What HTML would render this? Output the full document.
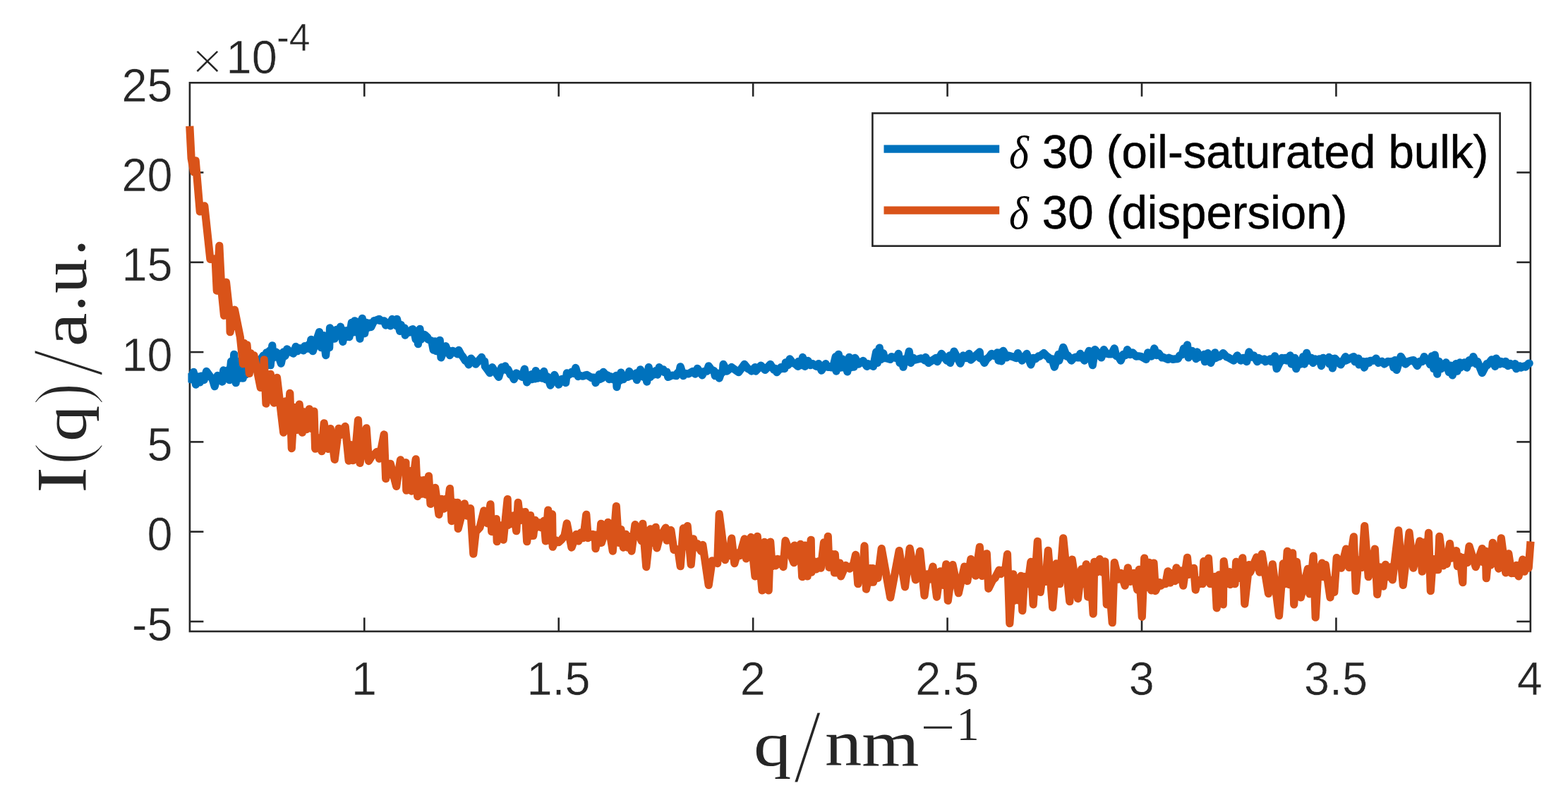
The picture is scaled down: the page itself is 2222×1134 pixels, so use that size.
<!DOCTYPE html>
<html lang="en">
<head>
<meta charset="utf-8">
<title>I(q) versus q</title>
<style>
html,body{margin:0;padding:0;background:#fff;}
body{width:2222px;height:1134px;overflow:hidden;}
svg{display:block;}
text{white-space:pre;}
.t{font-family:"Liberation Sans",Arial,Helvetica,sans-serif;fill:#262626;stroke:#fff;stroke-width:0.5px;}
.l{font-family:"Liberation Sans",Arial,Helvetica,sans-serif;fill:#000;stroke:#000;stroke-width:0.5px;}
.s{font-family:"Liberation Serif","Times New Roman",serif;fill:#262626;}
.d{font-family:"Liberation Serif","Times New Roman",serif;font-style:italic;fill:#000;}
.x{font-family:"Liberation Serif","Times New Roman",serif;fill:#262626;}
.ax line,.ax rect{stroke:#262626;stroke-width:2.6;fill:none;}
.c{fill:none;stroke-linejoin:round;stroke-linecap:butt;stroke-width:11.2;}
</style>
</head>
<body>
<svg width="2222" height="1134" viewBox="0 0 2222 1134">
<rect width="2222" height="1134" fill="#ffffff"/>
<g class="ax">
<rect x="268.9" y="117.3" width="1899.9" height="777.7"/>
<line x1="516.3" y1="895" x2="516.3" y2="875.5"/><line x1="516.3" y1="117.3" x2="516.3" y2="136.8"/><line x1="791.72" y1="895" x2="791.72" y2="875.5"/><line x1="791.72" y1="117.3" x2="791.72" y2="136.8"/><line x1="1067.15" y1="895" x2="1067.15" y2="875.5"/><line x1="1067.15" y1="117.3" x2="1067.15" y2="136.8"/><line x1="1342.58" y1="895" x2="1342.58" y2="875.5"/><line x1="1342.58" y1="117.3" x2="1342.58" y2="136.8"/><line x1="1618" y1="895" x2="1618" y2="875.5"/><line x1="1618" y1="117.3" x2="1618" y2="136.8"/><line x1="1893.42" y1="895" x2="1893.42" y2="875.5"/><line x1="1893.42" y1="117.3" x2="1893.42" y2="136.8"/><line x1="268.9" y1="244.5" x2="288.4" y2="244.5"/><line x1="2168.8" y1="244.5" x2="2149.3" y2="244.5"/><line x1="268.9" y1="371.8" x2="288.4" y2="371.8"/><line x1="2168.8" y1="371.8" x2="2149.3" y2="371.8"/><line x1="268.9" y1="499.1" x2="288.4" y2="499.1"/><line x1="2168.8" y1="499.1" x2="2149.3" y2="499.1"/><line x1="268.9" y1="626.4" x2="288.4" y2="626.4"/><line x1="2168.8" y1="626.4" x2="2149.3" y2="626.4"/><line x1="268.9" y1="753.7" x2="288.4" y2="753.7"/><line x1="2168.8" y1="753.7" x2="2149.3" y2="753.7"/><line x1="268.9" y1="881" x2="288.4" y2="881"/><line x1="2168.8" y1="881" x2="2149.3" y2="881"/>
</g>
<g>
<text class="t" xml:space="preserve" transform="translate(516,985.3) scale(1,1.02)" font-size="64.8" text-anchor="middle">1</text>
<text class="t" xml:space="preserve" transform="translate(791.42,985.3) scale(1,1.02)" font-size="64.8" text-anchor="middle">1.5</text>
<text class="t" xml:space="preserve" transform="translate(1066.85,985.3) scale(1,1.02)" font-size="64.8" text-anchor="middle">2</text>
<text class="t" xml:space="preserve" transform="translate(1342.28,985.3) scale(1,1.02)" font-size="64.8" text-anchor="middle">2.5</text>
<text class="t" xml:space="preserve" transform="translate(1617.7,985.3) scale(1,1.02)" font-size="64.8" text-anchor="middle">3</text>
<text class="t" xml:space="preserve" transform="translate(1893.12,985.3) scale(1,1.02)" font-size="64.8" text-anchor="middle">3.5</text>
<text class="t" xml:space="preserve" transform="translate(2167.85,985.3) scale(1,1.02)" font-size="64.8" text-anchor="middle">4</text>
</g>
<g>
<text class="t" xml:space="preserve" transform="translate(244.6,143.8) scale(1,1.02)" font-size="64.8" text-anchor="end">25</text>
<text class="t" xml:space="preserve" transform="translate(244.6,271.1) scale(1,1.02)" font-size="64.8" text-anchor="end">20</text>
<text class="t" xml:space="preserve" transform="translate(244.6,398.4) scale(1,1.02)" font-size="64.8" text-anchor="end">15</text>
<text class="t" xml:space="preserve" transform="translate(244.6,525.7) scale(1,1.02)" font-size="64.8" text-anchor="end">10</text>
<text class="t" xml:space="preserve" transform="translate(244.6,653) scale(1,1.02)" font-size="64.8" text-anchor="end">5</text>
<text class="t" xml:space="preserve" transform="translate(244.6,780.3) scale(1,1.02)" font-size="64.8" text-anchor="end">0</text>
<text class="t" xml:space="preserve" transform="translate(244.6,907.6) scale(1,1.02)" font-size="64.8" text-anchor="end">-5</text>
</g>
<g><text class="x" transform="translate(271.20,113.31) scale(1.0189,1.0000)" font-size="78.52" stroke="#fff" stroke-width="1.39">×</text><text class="t" xml:space="preserve" transform="translate(320.6,103.6) scale(1,1.02)" font-size="64.8" text-anchor="start">10</text><text class="t" xml:space="preserve" transform="translate(392,71.6) scale(1,1.02)" font-size="53.6" text-anchor="start">-4</text></g>
<clipPath id="bc"><rect x="266.4" y="100" width="1940" height="800"/></clipPath>
<polyline class="c" stroke="#0072bd" style="stroke-linecap:round" clip-path="url(#bc)" points="254.7,536.5 266.7,535.0 267.4,534.5 270.0,537.7 274.2,527.3 277.5,545.2 280.4,533.9 283.3,541.9 285.0,533.1 289.2,538.6 292.5,526.4 298.3,534.4 300.8,536.4 304.2,547.7 308.3,532.3 315.0,541.1 316.7,524.8 320.0,531.1 324.2,523.9 324.9,538.6 327.5,512.3 329.6,537.7 331.7,502.3 334.2,542.7 335.8,512.3 340.0,536.1 342.1,525.6 344.2,536.1 346.2,525.6 348.3,531.1 360.0,518.9 360.7,522.7 373.3,503.9 375.4,517.7 377.5,499.8 379.6,517.7 381.7,497.3 383.3,517.7 385.8,489.8 386.7,507.7 390.8,498.9 393.3,500.6 398.3,515.2 401.7,498.9 404.2,504.4 406.7,494.8 410.0,497.7 411.7,498.8 415.8,501.1 419.2,491.4 421.7,497.7 425.0,493.9 430.0,496.9 431.7,490.6 434.2,494.4 436.7,488.9 438.8,494.4 440.8,481.4 443.3,497.7 452.5,470.6 455.0,492.7 458.3,475.6 461.7,503.6 464.2,475.6 466.7,492.7 467.5,464.8 474.2,480.2 476.7,467.3 479.2,476.1 482.5,463.1 485.8,484.4 488.3,468.9 490.8,477.7 493.3,468.1 495.0,477.7 498.3,457.3 500.0,471.1 502.5,454.8 505.0,471.1 507.5,456.4 510.0,480.2 513.3,451.4 516.7,472.7 519.2,457.3 521.7,464.4 523.8,458.1 525.8,463.6 530.0,454.8 531.7,454.4 537.5,452.3 538.3,454.4 544.2,454.8 546.7,461.1 550.0,457.3 553.3,461.9 555.8,452.3 561.7,461.9 562.5,452.3 566.7,469.4 568.3,460.6 570.8,469.4 573.3,464.8 574.2,475.2 577.1,469.8 580.0,471.1 583.3,467.4 585.0,466.6 587.1,470.6 589.2,481.1 590.8,470.6 592.5,487.7 595.0,466.4 596.7,481.1 600.8,474.9 601.7,474.4 605.8,478.1 606.7,481.1 611.7,483.1 614.2,496.1 616.2,483.9 618.3,497.7 623.3,482.3 625.0,506.9 631.7,490.6 634.2,497.7 636.7,497.3 637.4,503.6 641.7,497.3 648.3,501.9 650.0,496.4 653.3,502.7 655.8,505.6 659.2,511.1 661.7,512.3 664.2,516.9 667.5,508.1 674.2,516.1 682.5,506.4 684.6,511.9 686.7,512.3 687.4,519.4 690.8,523.9 694.2,528.6 697.5,520.6 706.7,534.4 710.8,520.6 712.5,524.4 715.8,518.9 718.3,524.4 720.0,523.9 723.3,531.1 725.8,532.3 728.3,537.7 731.7,528.9 735.0,531.1 736.7,532.2 740.0,534.4 743.3,523.1 746.7,541.9 753.3,530.6 754.0,537.7 756.2,530.6 758.3,536.9 759.2,525.6 762.1,536.1 765.0,529.8 767.9,536.1 770.8,526.4 773.3,537.7 775.8,533.9 780.0,546.1 785.8,531.4 791.7,545.2 796.7,537.3 801.7,542.7 803.3,528.9 806.7,531.1 810.0,527.3 812.9,529.4 815.8,521.4 819.2,533.6 821.7,532.3 825.0,533.1 826.7,533.1 830.0,531.7 831.7,531.4 836.7,534.5 838.3,535.6 840.8,535.0 843.3,535.6 844.0,542.7 849.2,530.6 849.9,537.7 851.6,530.6 853.3,536.1 855.0,527.3 858.3,531.1 861.7,532.3 863.3,537.7 865.8,533.9 868.3,537.7 873.3,532.3 874.0,548.6 876.2,532.3 878.3,539.4 880.0,528.1 883.3,537.7 886.7,532.3 890.0,534.4 891.7,526.4 895.0,532.7 897.5,532.3 899.6,532.7 901.7,528.9 902.4,538.6 907.5,523.9 911.7,534.4 914.2,528.9 916.7,541.1 919.2,520.6 921.7,534.4 924.2,528.9 926.7,531.1 929.2,525.6 931.7,531.1 934.2,520.6 937.1,524.4 940.0,523.9 941.7,527.7 945.0,527.3 946.7,534.4 949.2,533.5 952.5,532.0 955.0,532.0 958.3,532.7 960.0,528.9 962.1,529.4 964.2,519.8 968.3,532.7 969.2,528.9 972.1,529.6 975.0,530.0 975.7,529.8 981.7,526.4 985.0,530.2 988.3,522.3 995.0,531.9 998.3,526.4 1001.7,526.1 1004.2,518.9 1008.3,524.4 1011.7,525.6 1013.3,532.7 1016.2,528.9 1019.2,536.1 1021.7,528.9 1024.2,527.7 1025.0,516.4 1030.0,526.1 1036.7,520.6 1046.7,527.7 1055.0,516.4 1060.0,522.7 1062.5,523.9 1065.0,526.1 1070.0,520.6 1070.8,526.1 1078.3,518.1 1084.2,524.4 1091.7,516.4 1096.7,524.4 1098.8,522.3 1100.8,527.7 1106.7,520.6 1107.4,522.7 1109.5,520.6 1111.7,522.7 1113.3,513.9 1116.7,517.7 1119.2,508.9 1123.3,514.4 1126.7,515.6 1130.8,519.4 1131.7,512.3 1134.6,517.7 1137.5,506.4 1140.8,519.4 1145.0,511.4 1148.3,517.7 1151.7,515.6 1156.7,519.4 1160.0,515.6 1164.2,525.2 1170.0,515.6 1170.7,519.4 1173.7,520.4 1176.7,519.3 1178.3,520.8 1181.2,517.7 1184.2,505.6 1185.0,526.1 1188.3,502.3 1191.7,521.1 1193.3,508.9 1195.8,521.1 1198.3,513.9 1200.8,526.9 1203.3,506.4 1205.0,521.1 1207.5,510.6 1210.0,520.2 1211.7,507.3 1216.7,516.1 1223.3,511.4 1228.3,519.4 1230.0,515.6 1233.3,517.7 1236.7,515.6 1237.5,519.4 1241.7,498.9 1243.3,514.4 1246.3,493.1 1248.3,509.4 1251.7,500.6 1253.3,507.7 1255.0,507.3 1261.7,509.4 1263.3,505.6 1270.0,507.7 1273.3,501.4 1275.0,514.4 1277.5,508.9 1280.0,520.2 1282.5,508.9 1285.0,512.7 1288.3,498.1 1290.8,514.4 1294.2,507.3 1296.7,510.2 1301.7,508.8 1305.0,507.9 1307.9,508.9 1310.8,511.1 1311.7,506.4 1315.8,514.4 1326.7,507.3 1328.3,512.7 1334.2,501.4 1341.7,511.1 1345.8,503.9 1346.5,514.4 1352.0,498.1 1360.8,515.2 1365.0,503.9 1369.2,507.7 1373.3,501.4 1375.8,510.2 1388.3,498.9 1389.0,507.7 1392.0,508.9 1395.0,514.4 1398.3,508.9 1401.7,506.1 1405.0,501.4 1408.3,504.4 1413.3,499.8 1415.0,511.1 1417.1,499.8 1419.2,511.9 1421.7,497.3 1426.7,506.9 1428.3,503.9 1433.3,505.2 1435.0,505.6 1440.0,507.7 1442.5,500.6 1448.3,511.1 1455.0,501.4 1460.8,516.9 1464.2,507.3 1467.5,508.6 1471.7,504.8 1473.3,505.2 1479.2,500.6 1482.9,504.4 1486.7,507.3 1487.4,509.4 1490.8,508.9 1494.2,520.2 1500.0,502.3 1500.8,511.1 1506.7,492.3 1511.7,505.2 1513.3,503.9 1518.3,511.1 1521.7,507.3 1525.0,506.1 1527.5,506.9 1530.0,506.9 1530.8,501.4 1536.7,511.1 1543.3,497.3 1548.3,517.7 1551.7,495.6 1560.8,506.9 1564.2,495.6 1567.9,501.1 1571.7,501.9 1575.0,501.9 1579.2,493.9 1581.7,504.4 1585.0,505.6 1588.3,511.1 1591.7,502.3 1595.0,503.6 1597.5,495.6 1601.7,502.7 1605.0,499.8 1610.0,505.2 1613.3,504.8 1616.7,505.2 1620.0,506.9 1624.2,509.4 1626.7,499.8 1631.7,505.2 1635.8,493.9 1638.8,503.6 1641.7,500.6 1646.7,506.9 1648.3,506.4 1655.0,509.4 1656.7,507.3 1661.7,509.4 1665.0,508.9 1669.2,508.6 1671.7,503.9 1675.0,502.7 1677.5,493.9 1680.0,501.1 1682.5,488.9 1684.2,506.9 1689.2,497.3 1695.0,508.6 1696.7,498.9 1699.2,506.1 1701.7,503.9 1704.2,506.1 1706.7,502.3 1707.4,512.7 1711.7,500.6 1715.8,514.4 1721.7,499.8 1722.4,507.7 1727.5,504.8 1728.3,505.2 1733.3,500.6 1738.3,506.1 1740.0,506.4 1748.3,511.1 1753.3,503.9 1758.3,511.1 1761.7,507.3 1766.7,512.7 1770.0,498.9 1773.3,506.1 1776.7,503.9 1781.7,512.7 1783.3,507.3 1788.3,510.2 1791.7,508.9 1793.3,512.7 1800.0,508.9 1801.7,512.7 1806.7,504.8 1809.2,522.7 1816.7,507.3 1817.4,511.1 1821.7,507.3 1823.3,511.1 1828.3,503.9 1830.0,516.1 1835.0,507.3 1836.7,522.7 1840.0,513.9 1843.3,516.1 1846.7,505.6 1848.3,516.1 1851.7,500.3 1855.0,511.1 1858.3,507.3 1860.8,514.4 1863.8,508.9 1866.7,511.1 1869.6,508.9 1872.5,518.6 1875.0,507.3 1879.2,511.1 1883.3,506.4 1884.0,516.1 1886.2,508.1 1888.3,521.9 1891.7,508.1 1900.0,516.9 1906.7,505.6 1907.4,511.1 1918.3,505.6 1920.0,512.7 1925.0,508.1 1925.7,516.9 1927.8,512.3 1930.0,516.1 1931.7,512.3 1933.3,521.1 1936.7,512.3 1940.0,514.4 1941.7,511.4 1946.7,511.1 1950.0,508.1 1953.3,514.4 1958.3,512.3 1961.7,516.1 1966.7,512.3 1970.0,512.7 1972.5,512.3 1975.0,521.1 1976.7,510.6 1979.2,524.4 1985.0,505.3 1991.7,516.1 1995.8,512.3 2000.0,511.1 2003.3,510.6 2008.3,518.6 2011.7,512.3 2015.0,512.7 2018.3,505.6 2021.7,511.1 2024.2,510.6 2026.7,516.9 2029.2,504.8 2031.7,522.7 2033.3,503.1 2036.7,530.2 2039.2,512.3 2042.5,522.7 2049.2,513.9 2053.3,527.7 2055.8,518.1 2058.3,531.9 2063.3,515.6 2065.0,526.1 2068.7,513.9 2069.4,521.1 2075.3,513.9 2078.7,521.1 2082.0,510.6 2084.9,514.4 2087.8,505.6 2092.0,516.1 2093.7,512.3 2100.3,528.6 2107.0,515.6 2107.7,517.7 2113.7,509.8 2118.7,519.4 2120.3,508.1 2125.3,516.1 2127.0,512.3 2132.0,516.1 2133.7,512.3 2137.0,518.6 2140.3,515.6 2143.7,517.7 2147.0,515.6 2148.7,522.7 2153.7,518.9 2155.3,521.1 2160.3,518.9 2162.0,520.2 2166.5,515.0 2167.2,515.0"/>
<polyline class="c" stroke="#d95319" points="268.8,178.8 271.1,224.2 274.6,243.8 277.2,227.8 283.3,300.0 289.8,291.9 297.9,367.5 305.1,366.7 307.3,412.2 310.8,348.3 314.0,412.5 317.5,447.3 320.5,400.0 325.7,447.5 326.1,470.7 332.5,439.2 340.4,478.0 344.4,515.8 345.8,486.4 347.5,513.6 350.0,488.9 353.3,529.4 355.0,500.6 357.5,519.4 360.0,503.9 369.2,549.4 371.7,549.4 374.2,509.8 377.0,572.2 383.3,530.3 388.3,571.1 392.5,535.3 401.7,613.1 404.6,568.9 407.5,609.4 410.8,557.3 413.3,635.6 416.7,577.3 420.8,609.4 424.2,573.1 428.3,613.1 431.2,583.9 434.2,608.6 438.3,579.8 441.7,607.7 445.0,583.1 446.7,636.1 449.0,620.6 451.2,634.4 453.5,620.6 455.8,639.7 459.2,599.8 465.0,636.4 468.3,607.6 474.2,651.4 480.0,607.3 480.8,617.7 489.2,604.4 494.2,653.1 497.1,630.6 500.0,652.7 501.7,630.6 503.3,644.4 507.5,595.6 510.0,656.4 519.2,606.8 522.5,653.6 527.5,645.6 530.0,644.4 534.2,640.3 537.5,650.2 544.2,615.9 546.7,678.6 550.3,657.3 551.8,672.7 553.3,657.3 561.7,689.4 567.5,651.9 571.2,664.4 575.0,655.6 575.8,695.2 579.6,667.3 583.3,696.1 589.2,650.9 591.7,703.6 594.6,680.6 597.5,700.2 600.4,680.6 603.3,701.1 607.5,674.8 610.0,714.4 616.7,691.4 622.0,729.4 625.6,707.3 629.2,721.1 631.7,707.3 634.2,717.7 637.5,692.6 640.0,738.6 644.2,712.3 646.2,738.6 648.3,712.3 649.2,749.4 658.3,713.9 661.7,731.1 666.7,720.6 670.8,785.2 674.2,753.9 680.0,747.7 685.8,723.9 690.8,741.9 695.0,714.8 696.7,753.6 703.3,735.6 704.2,767.7 709.2,744.8 713.3,765.2 719.2,707.6 719.9,744.4 722.8,730.6 725.8,742.7 728.7,730.6 731.7,752.7 734.2,712.3 737.1,737.7 740.0,725.6 742.1,737.7 744.2,725.6 746.7,767.7 751.7,730.6 753.3,759.4 755.0,737.3 755.7,759.4 758.3,737.3 760.0,747.7 763.3,740.6 766.7,747.7 770.8,738.1 773.3,766.9 776.7,723.1 779.6,766.9 782.5,728.9 783.2,775.2 787.4,765.6 791.7,768.6 795.8,764.8 800.0,759.4 803.3,741.9 810.0,776.1 816.7,757.3 820.0,766.9 823.3,754.8 826.7,762.7 830.8,729.3 833.3,762.7 840.0,757.3 841.7,762.7 843.3,758.1 844.0,777.7 847.5,760.6 849.6,769.4 851.7,742.3 852.4,769.4 861.7,740.3 868.3,781.1 873.3,717.6 876.7,769.4 880.0,750.6 883.3,776.1 886.7,757.3 889.2,776.1 891.7,760.6 895.0,781.1 900.0,743.6 909.2,766.9 910.8,742.3 915.8,803.6 921.7,749.8 925.4,769.4 929.2,747.3 930.8,776.9 935.8,757.3 937.5,757.7 943.3,748.1 945.0,766.1 950.8,751.4 955.0,779.4 960.8,778.9 964.2,802.7 968.3,748.9 971.2,774.4 974.2,745.6 979.2,800.2 982.5,763.9 985.4,776.1 988.3,770.6 993.3,781.1 995.8,772.3 1004.2,829.4 1009.2,794.8 1016.7,798.6 1019.2,728.6 1027.5,793.6 1030.4,778.9 1033.3,787.7 1036.7,763.1 1040.8,798.6 1045.0,783.9 1048.3,787.7 1055.0,763.9 1057.5,791.9 1064.2,761.4 1070.0,816.9 1073.3,760.3 1080.0,836.9 1083.3,768.4 1089.2,836.9 1091.7,768.1 1094.2,802.7 1096.7,792.3 1099.2,801.9 1101.9,792.3 1104.6,799.4 1107.3,792.3 1110.0,803.6 1113.0,766.4 1125.0,797.7 1125.8,773.1 1130.8,794.4 1134.2,771.4 1136.7,817.7 1140.8,773.1 1144.2,816.9 1149.2,765.3 1150.0,811.1 1153.3,795.6 1156.7,806.9 1160.0,795.6 1163.3,805.2 1167.5,768.9 1170.4,791.1 1173.3,760.3 1175.0,804.4 1180.0,785.6 1182.5,811.9 1183.3,785.6 1185.0,811.9 1186.7,798.9 1188.3,811.9 1190.0,798.1 1191.7,816.9 1198.3,801.4 1204.2,806.1 1206.7,802.3 1209.2,801.1 1212.5,786.4 1215.8,827.7 1219.2,802.3 1222.1,821.1 1225.0,773.9 1227.5,835.2 1233.3,805.6 1235.0,825.2 1236.7,805.6 1237.5,825.2 1243.3,805.6 1244.0,819.4 1249.2,777.6 1261.7,846.9 1274.2,780.6 1282.5,831.9 1289.2,777.3 1297.5,821.9 1303.7,781.4 1310.0,844.1 1313.8,813.9 1317.5,821.1 1322.0,803.1 1327.5,846.1 1332.5,809.8 1336.7,829.4 1340.8,799.8 1343.3,851.4 1350.0,800.6 1358.3,840.7 1366.7,803.1 1370.8,823.6 1375.8,792.6 1382.5,816.1 1388.3,775.3 1391.7,816.4 1398.3,784.8 1400.8,834.4 1406.7,822.3 1410.0,819.4 1415.8,808.1 1418.3,813.6 1421.2,808.1 1424.2,811.1 1427.5,785.6 1430.8,883.6 1435.8,813.9 1438.5,851.1 1441.2,822.3 1444.0,851.1 1446.7,816.4 1448.8,865.7 1451.7,817.3 1456.7,827.7 1460.8,796.4 1464.2,856.9 1470.3,767.3 1474.2,839.4 1477.5,815.6 1481.7,824.4 1485.3,780.3 1491.7,861.1 1496.7,798.9 1501.7,827.7 1506.7,762.8 1515.8,852.7 1519.2,793.1 1527.5,848.6 1532.5,806.9 1535.8,827.7 1539.2,799.8 1541.7,846.1 1545.0,803.9 1549.2,870.2 1550.8,796.4 1554.6,811.1 1558.3,792.6 1562.1,811.1 1565.8,795.9 1568.3,856.9 1572.5,835.6 1576.2,882.7 1579.2,797.3 1585.0,821.1 1588.3,812.3 1594.2,830.2 1598.3,804.8 1601.7,824.4 1606.7,812.3 1611.7,836.1 1614.2,807.3 1618.3,874.4 1621.7,791.1 1625.0,832.7 1628.3,797.3 1631.7,836.9 1635.0,798.1 1637.5,837.7 1643.3,825.6 1645.0,830.2 1648.3,827.3 1651.7,827.7 1655.0,809.8 1658.3,826.1 1661.7,812.3 1665.0,823.6 1667.0,804.8 1670.0,821.1 1673.3,808.9 1676.7,830.2 1682.5,790.3 1684.8,814.4 1687.1,805.3 1689.4,814.4 1691.7,805.3 1694.2,836.1 1697.1,822.3 1700.0,827.7 1702.1,822.3 1704.2,827.7 1705.8,795.6 1709.2,821.1 1712.5,791.4 1715.0,827.7 1717.3,817.3 1719.6,827.7 1721.9,817.3 1724.2,861.9 1727.5,814.8 1733.3,856.9 1734.2,795.6 1738.3,827.7 1742.5,810.6 1743.3,828.6 1746.7,813.9 1750.0,827.7 1751.7,796.4 1756.7,819.4 1760.8,790.9 1763.8,856.1 1770.0,800.6 1771.7,811.1 1780.8,789.8 1785.0,811.1 1788.3,785.3 1797.5,841.4 1803.3,799.8 1812.5,872.7 1818.3,798.9 1821.2,827.7 1824.2,781.4 1826.7,828.6 1831.7,783.9 1833.7,856.9 1837.5,796.4 1843.3,846.9 1853.3,806.4 1855.8,841.9 1861.2,788.1 1864.2,875.2 1868.3,803.9 1870.8,817.7 1873.3,798.1 1875.8,817.7 1878.3,800.6 1885.0,846.9 1887.9,822.3 1890.8,839.4 1894.2,790.6 1900.8,805.2 1907.5,778.1 1911.7,804.4 1918.3,760.9 1921.3,837.7 1925.0,793.9 1930.0,804.4 1933.7,745.6 1939.2,817.7 1948.3,778.1 1951.7,842.7 1955.8,803.9 1960.0,831.1 1963.3,800.3 1966.7,817.7 1970.0,803.9 1973.3,821.9 1981.7,751.9 1988.3,829.4 1997.0,754.8 2002.8,805.2 2012.0,766.9 2015.3,810.2 2018.2,768.9 2021.2,804.4 2024.5,755.3 2027.3,837.7 2030.5,792.3 2033.7,807.7 2035.8,792.3 2037.8,807.7 2039.8,760.3 2045.3,801.9 2047.8,793.9 2050.3,799.4 2054.5,770.6 2056.8,791.1 2059.1,780.6 2061.4,791.1 2063.7,780.6 2065.3,802.7 2068.7,788.9 2072.8,825.7 2073.7,790.6 2076.2,793.9 2079.1,797.7 2082.0,774.3 2091.2,803.6 2100.3,777.6 2102.8,797.7 2105.3,781.4 2106.2,819.7 2109.5,785.6 2112.4,801.1 2115.3,769.3 2123.7,806.1 2127.3,762.8 2133.7,811.9 2137.8,784.8 2142.0,812.7 2145.3,803.9 2147.0,812.7 2148.7,801.4 2152.0,816.9 2157.8,793.1 2160.3,810.2 2162.0,797.3 2166.2,805.2 2169.0,767.5"/>
<g class="ax"><rect x="1236.4" y="160.5" width="889.2" height="188.2" style="fill:#fff"/></g>
<line x1="1252.5" y1="211.2" x2="1416.2" y2="211.2" stroke="#0072bd" stroke-width="11.2"/>
<line x1="1252.5" y1="298.2" x2="1416.2" y2="298.2" stroke="#d95319" stroke-width="11.2"/>
<g><text class="d" transform="translate(1429.91,237.94) scale(0.9049,1.0000)" font-size="66.06">δ</text><text class="l" xml:space="preserve" transform="translate(1458.62,238) scale(1,1.01)" font-size="65.4" text-anchor="start"> 30 (oil-saturated bulk)</text></g>
<g><text class="d" transform="translate(1429.91,324.04) scale(0.9049,1.0000)" font-size="66.06">δ</text><text class="l" xml:space="preserve" transform="translate(1458.62,324.1) scale(1,1.01)" font-size="65.4" text-anchor="start"> 30 (dispersion)</text></g>
<g><text class="s" transform="translate(1067.97,1084.70) scale(1.1864,1.0000)" font-size="89.78">q</text><text class="s" transform="translate(1124.30,1109.00) scale(0.9610,1.0000)" font-size="149.85" stroke="#fff" stroke-width="3.06">/</text><text class="s" transform="translate(1168.99,1085.00) scale(1.1107,1.0000)" font-size="94.04">nm</text><text class="s" transform="translate(1304.70,1051.40) scale(1.4337,1.0000)" font-size="60.00">−</text><text class="s" transform="translate(1355.61,1049.10) scale(0.9450,1.0000)" font-size="68.03">1</text></g>
<g transform="translate(122.3,695) rotate(-90)"><text class="s" transform="translate(-3.86,-0.60) scale(1.0952,1.0000)" font-size="100.61">I</text><text class="s" transform="translate(35.99,1.52) scale(0.8725,1.0000)" font-size="109.67" stroke="#fff" stroke-width="2.99">(</text><text class="s" transform="translate(68.90,-1.17) scale(1.1726,1.0000)" font-size="87.77">q</text><text class="s" transform="translate(120.74,1.81) scale(0.8602,1.0000)" font-size="110.89" stroke="#fff" stroke-width="3.01">)</text><text class="s" transform="translate(161.50,22.74) scale(0.9447,1.0000)" font-size="146.27" stroke="#fff" stroke-width="3.09">/</text><text class="s" transform="translate(203.73,0.06) scale(1.1477,1.0000)" font-size="93.75">a</text><text class="s" transform="translate(253.54,-1.97) scale(1.0000,1.0000)" font-size="91.67">.</text><text class="s" transform="translate(279.34,0.06) scale(1.0408,1.0000)" font-size="93.83">u</text><text class="s" transform="translate(332.74,-1.97) scale(1.0000,1.0000)" font-size="91.67">.</text></g>
</svg>
</body>
</html>
